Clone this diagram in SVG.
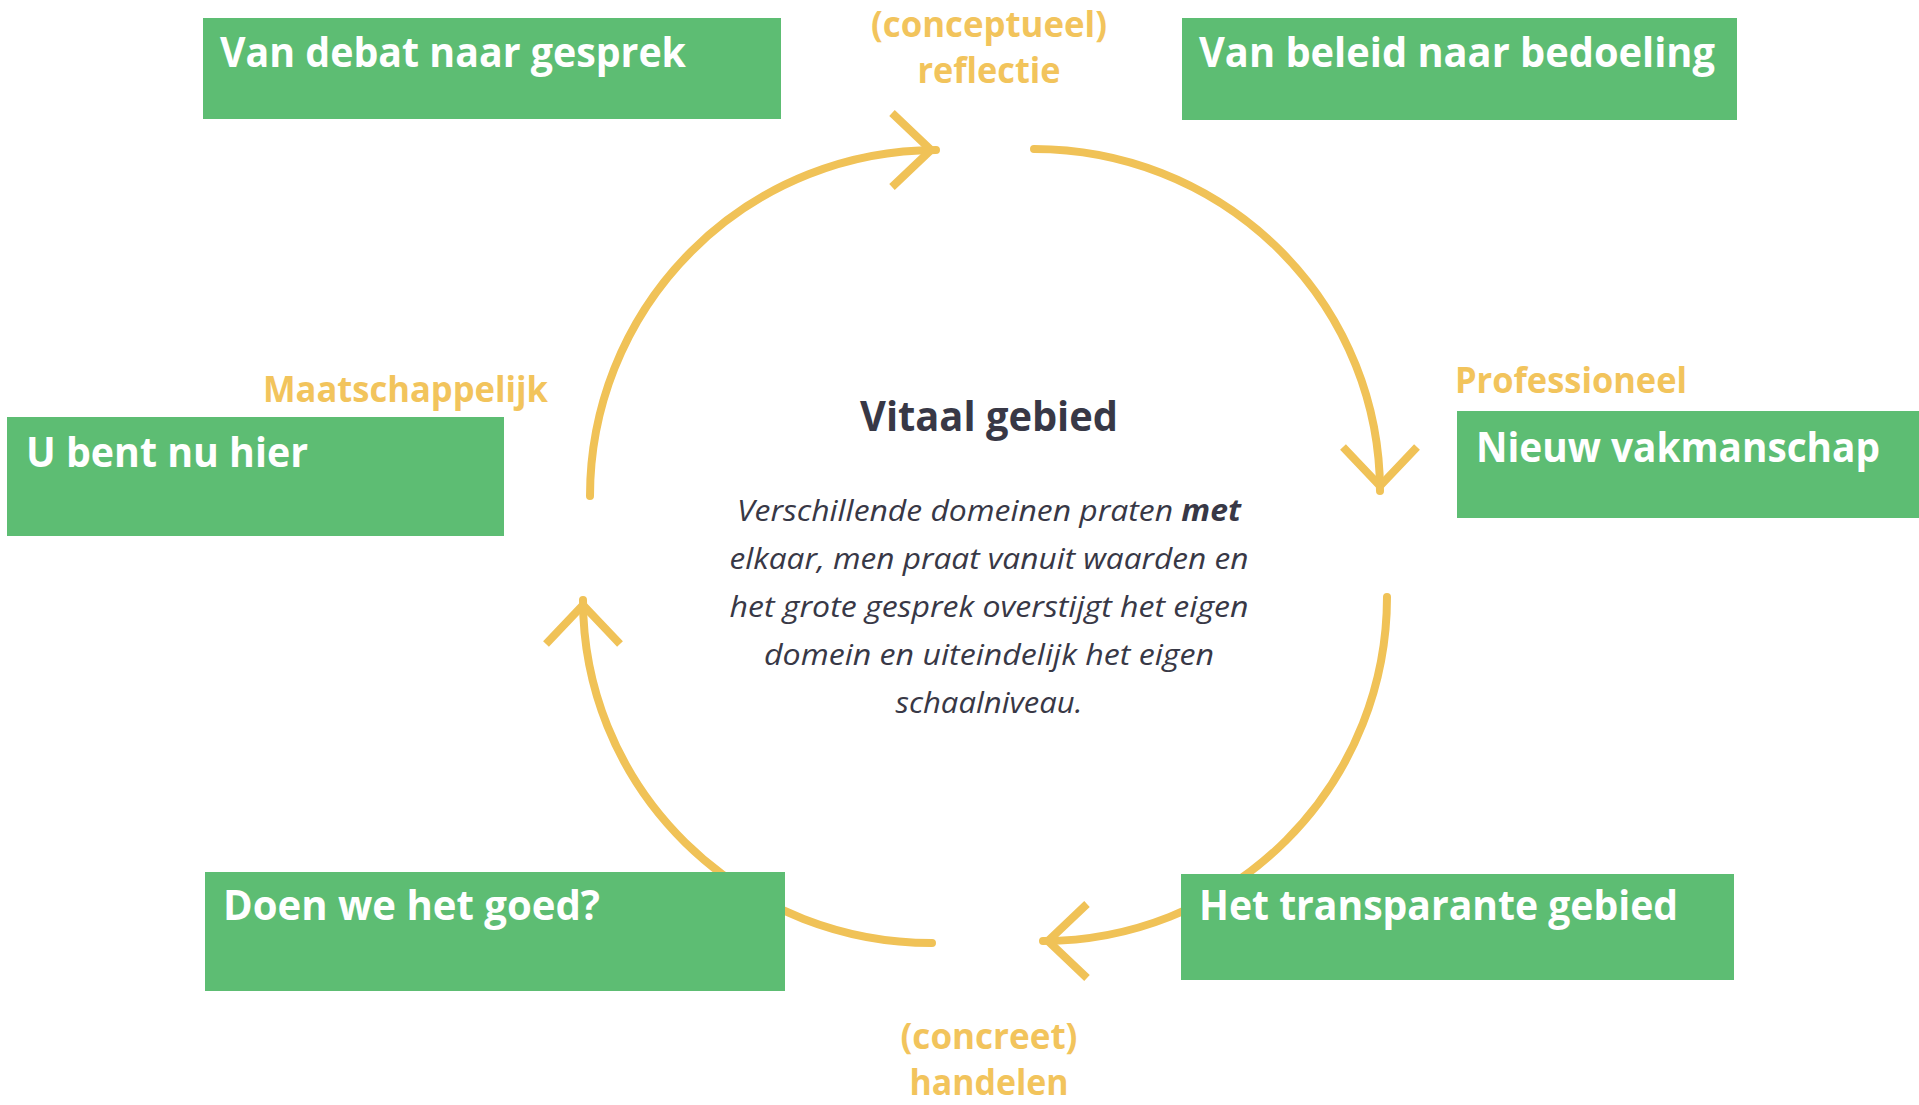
<svg xmlns="http://www.w3.org/2000/svg" width="1919" height="1105" viewBox="0 0 1919 1105">
<defs>
<style>
.box{fill:#5DBD73;}
.bt{font-family:"Open Sans","Noto Sans",sans-serif;font-weight:700;font-size:41px;fill:#FFFFFF;}
.lbl{font-family:"Open Sans","Noto Sans",sans-serif;font-weight:700;font-size:35px;fill:#F2C45C;}
.mid{text-anchor:middle;}
.title{font-family:"Open Sans","Noto Sans",sans-serif;font-weight:700;font-size:42px;fill:#383846;text-anchor:middle;}
.para{font-family:"Open Sans","Noto Sans",sans-serif;font-style:italic;font-size:30px;fill:#383846;text-anchor:middle;}
.arc{fill:none;stroke:#F0C257;stroke-width:8;stroke-linecap:round;marker-end:url(#chev);}
</style>
<marker id="chev" markerUnits="userSpaceOnUse" markerWidth="120" markerHeight="120" viewBox="-60 -60 120 120" refX="0" refY="0" orient="auto" overflow="visible">
<path d="M -44 -37 L -5 0 L -44 37" fill="none" stroke="#F0C257" stroke-width="8" stroke-linejoin="miter"/>
</marker>
</defs>
<rect x="0" y="0" width="1919" height="1105" fill="#FFFFFF"/>

<g id="connectors">
<path class="arc" d="M 590 496 A 346 346 0 0 1 936 150"/>
<path class="arc" d="M 1034 149 A 346 342 0 0 1 1380 491"/>
<path class="arc" d="M 1387 597 A 344 344 0 0 1 1043 941"/>
<path class="arc" d="M 932 943 A 349 343 0 0 1 583 600"/>
</g>

<g id="node-debat">
<rect class="box" x="203" y="18" width="578" height="101"/>
<text class="bt" x="220" y="67" textLength="466" lengthAdjust="spacingAndGlyphs">Van debat naar gesprek</text>
</g>
<g id="node-beleid">
<rect class="box" x="1182" y="18" width="555" height="102"/>
<text class="bt" x="1199" y="67" textLength="516" lengthAdjust="spacingAndGlyphs">Van beleid naar bedoeling</text>
</g>
<g id="node-hier">
<rect class="box" x="7" y="417" width="497" height="119"/>
<text class="bt" x="26" y="467" textLength="282" lengthAdjust="spacingAndGlyphs">U bent nu hier</text>
</g>
<g id="node-vakmanschap">
<rect class="box" x="1457" y="411" width="462" height="107"/>
<text class="bt" x="1476" y="462" textLength="404" lengthAdjust="spacingAndGlyphs">Nieuw vakmanschap</text>
</g>
<g id="node-goed">
<rect class="box" x="205" y="872" width="580" height="119"/>
<text class="bt" x="223" y="920" textLength="377" lengthAdjust="spacingAndGlyphs">Doen we het goed?</text>
</g>
<g id="node-transparant">
<rect class="box" x="1181" y="874" width="553" height="106"/>
<text class="bt" x="1199" y="920" textLength="479" lengthAdjust="spacingAndGlyphs">Het transparante gebied</text>
</g>

<g id="label-reflectie">
<text class="lbl mid" x="989" y="37"><tspan x="989" y="37" textLength="236" lengthAdjust="spacingAndGlyphs">(conceptueel)</tspan><tspan x="989" y="83" textLength="143" lengthAdjust="spacingAndGlyphs">reflectie</tspan></text>
</g>
<g id="label-professioneel">
<text class="lbl" x="1455" y="393" textLength="232" lengthAdjust="spacingAndGlyphs">Professioneel</text>
</g>
<g id="label-maatschappelijk">
<text class="lbl" x="263" y="402" textLength="285" lengthAdjust="spacingAndGlyphs">Maatschappelijk</text>
</g>
<g id="label-handelen">
<text class="lbl mid" x="989" y="1049" font-size="34"><tspan x="989" y="1049" textLength="177" lengthAdjust="spacingAndGlyphs">(concreet)</tspan><tspan x="989" y="1095" textLength="159" lengthAdjust="spacingAndGlyphs">handelen</tspan></text>
</g>

<g id="center">
<text class="title" x="989" y="431" textLength="258" lengthAdjust="spacingAndGlyphs">Vitaal gebied</text>
<text class="para" x="989" y="521" textLength="504" lengthAdjust="spacingAndGlyphs">Verschillende domeinen praten <tspan font-weight="700">met</tspan></text>
<text class="para" x="989" y="569" textLength="519" lengthAdjust="spacingAndGlyphs">elkaar, men praat vanuit waarden en</text>
<text class="para" x="989" y="617" textLength="519" lengthAdjust="spacingAndGlyphs">het grote gesprek overstijgt het eigen</text>
<text class="para" x="989" y="665" textLength="450" lengthAdjust="spacingAndGlyphs">domein en uiteindelijk het eigen</text>
<text class="para" x="989" y="713" textLength="187" lengthAdjust="spacingAndGlyphs">schaalniveau.</text>
</g>
</svg>
